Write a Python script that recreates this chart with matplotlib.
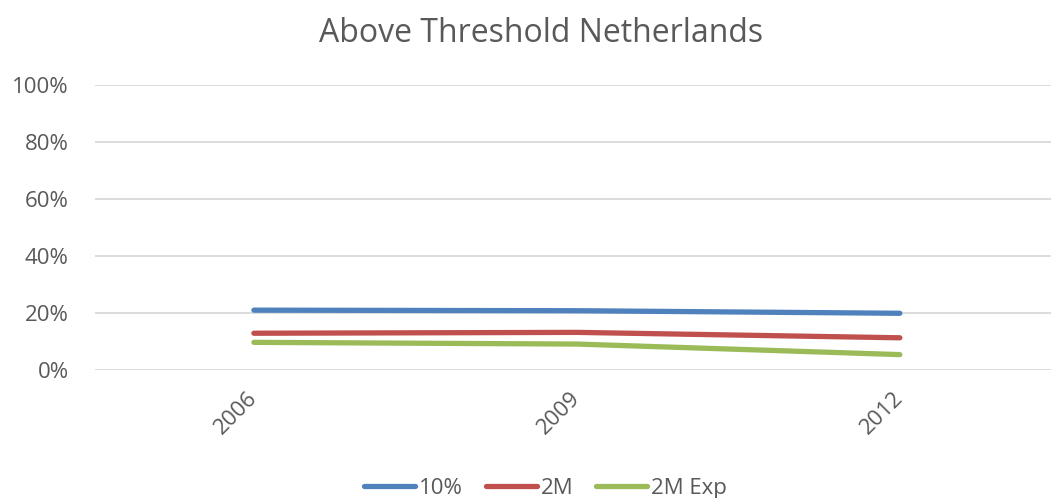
import matplotlib
matplotlib.use("Agg")
import matplotlib.pyplot as plt
from matplotlib.ticker import PercentFormatter

# Data
years = ["2006", "2009", "2012"]
share_10pct = [0.210, 0.208, 0.199]
share_2m = [0.129, 0.132, 0.113]
share_2m_exp = [0.097, 0.091, 0.054]
series_names = ["10%", "2M", "2M Exp"]
y_ticks = [0, 0.2, 0.4, 0.6, 0.8, 1.0]

TEXT = "#595959"
GRID = "#D9D9D9"
COLORS = ["#4F81BD", "#C0504D", "#9BBB59"]

plt.rcParams["font.family"] = ["Open Sans", "DejaVu Sans"]

fig = plt.figure(figsize=(10.51, 4.98), dpi=100)
ax = fig.add_axes([95 / 1051, 128 / 498, 956 / 1051, 285 / 498])

x = list(range(len(years)))
for vals, name, col in zip([share_10pct, share_2m, share_2m_exp], series_names, COLORS):
    ax.plot(x, vals, color=col, lw=3.8, solid_capstyle="round",
            solid_joinstyle="round", label=name, zorder=3)

ax.set_ylim(0, 1.0)
ax.set_xlim(-0.492, 2.468)
ax.set_yticks(y_ticks)
ax.yaxis.set_major_formatter(PercentFormatter(1.0, decimals=0))
ax.set_xticks(x)
ax.set_xticklabels(years)
ax.grid(axis="y", color=GRID, lw=1.3, zorder=0)
ax.set_axisbelow(True)
for s in ax.spines.values():
    s.set_visible(False)
ax.tick_params(axis="both", length=0, colors=TEXT, labelsize=16)
ax.tick_params(axis="y", pad=19)
ax.tick_params(axis="x", pad=18)
for lab in ax.get_xticklabels():
    lab.set_rotation(45)
    lab.set_rotation_mode("anchor")
    lab.set_ha("right")
    lab.set_va("center")

fig.text(541 / 1051, 1 - 34 / 498, "Above Threshold Netherlands", ha="center",
         va="center", fontsize=23, color=TEXT)

leg = fig.legend(loc="center", bbox_to_anchor=(0.519, 10 / 498), ncol=3,
                 frameon=False, fontsize=16, handlelength=2.3,
                 columnspacing=1.05, handletextpad=0.15, labelcolor=TEXT)

fig.savefig("out.png", dpi=100)
